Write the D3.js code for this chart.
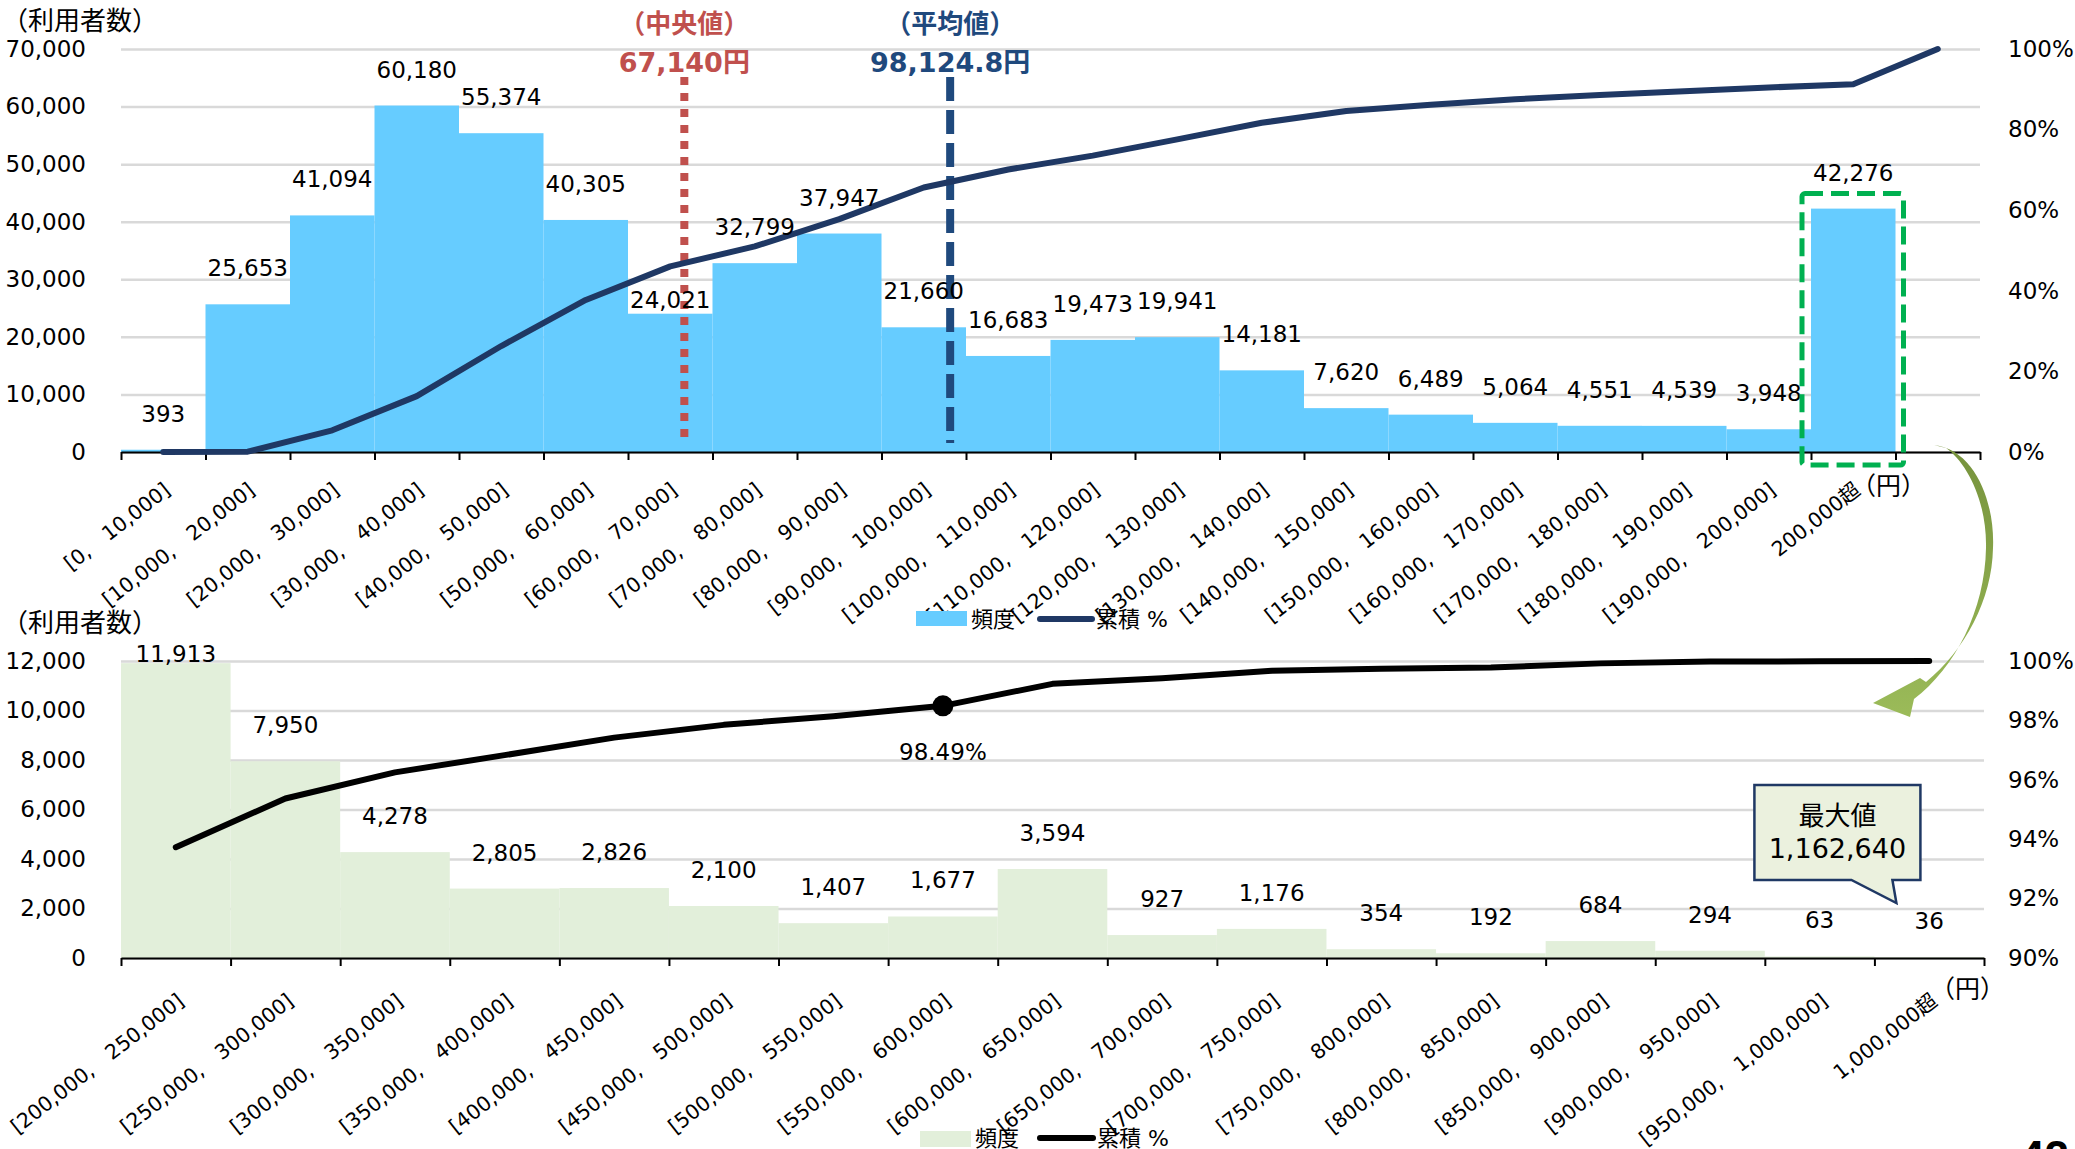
<!DOCTYPE html>
<html>
<head>
<meta charset="utf-8">
<title>利用者数の分布</title>
<script src="https://cdn.jsdelivr.net/npm/d3@7"></script>
<style>
body { margin: 0; background: #fff; }
svg { display: block; font-family: "DejaVu Sans", "Noto Sans CJK JP", sans-serif; }
.grid line { stroke: #d9d9d9; stroke-width: 2.5; }
.grid path { display: none; }
.ticks path, .ticks line { display: none; }
.ticks text { font-size: 23px; fill: #000; font-family: "DejaVu Sans", "Noto Sans CJK JP", sans-serif; }
.edge path, .edge line { stroke: #000; stroke-width: 2; }
.xlab { font-size: 20.5px; fill: #000; }
.val { font-size: 23px; fill: #000; text-anchor: middle; }
.legend { font-size: 22px; fill: #000; }
</style>
</head>
<body>
<script>

// ---------- data ----------
// upper chart: 10,000 yen bins up to 200,000, then "over 200,000"
var topCats = ["[0,　10,000]", "[10,000,　20,000]", "[20,000,　30,000]", "[30,000,　40,000]",
    "[40,000,　50,000]", "[50,000,　60,000]", "[60,000,　70,000]", "[70,000,　80,000]",
    "[80,000,　90,000]", "[90,000,　100,000]", "[100,000,　110,000]", "[110,000,　120,000]",
    "[120,000,　130,000]", "[130,000,　140,000]", "[140,000,　150,000]", "[150,000,　160,000]",
    "[160,000,　170,000]", "[170,000,　180,000]", "[180,000,　190,000]", "[190,000,　200,000]",
    "200,000超"];
var topFreq = [393, 25653, 41094, 60180, 55374, 40305, 24021, 32799, 37947, 21660,
    16683, 19473, 19941, 14181, 7620, 6489, 5064, 4551, 4539, 3948, 42276];
// cumulative % as drawn (one point per slot, last slot past the bars)
var topCum = [0, 0.08, 5.38, 13.87, 26.30, 37.73, 46.06, 51.02, 57.79, 65.63, 70.10,
    73.55, 77.57, 81.69, 84.62, 86.19, 87.53, 88.58, 89.52, 90.45, 91.27, 100];
var topYTicks = [0, 10000, 20000, 30000, 40000, 50000, 60000, 70000];
var topPctTicks = [0, 20, 40, 60, 80, 100];
var median = 67140;
var mean = 98124.8;

// lower chart: breakdown of "over 200,000" in 50,000 yen bins
var botCats = ["[200,000,　250,000]", "[250,000,　300,000]", "[300,000,　350,000]",
    "[350,000,　400,000]", "[400,000,　450,000]", "[450,000,　500,000]", "[500,000,　550,000]",
    "[550,000,　600,000]", "[600,000,　650,000]", "[650,000,　700,000]", "[700,000,　750,000]",
    "[750,000,　800,000]", "[800,000,　850,000]", "[850,000,　900,000]", "[900,000,　950,000]",
    "[950,000,　1,000,000]", "1,000,000超"];
var botFreq = [11913, 7950, 4278, 2805, 2826, 2100, 1407, 1677, 3594, 927, 1176,
    354, 192, 684, 294, 63, 36];
var botCum = [93.73, 95.37, 96.25, 96.83, 97.42, 97.85, 98.14, 98.49, 99.23, 99.42,
    99.67, 99.74, 99.78, 99.92, 99.98, 99.99, 100];
var botYTicks = [0, 2000, 4000, 6000, 8000, 10000, 12000];
var botPctTicks = [90, 92, 94, 96, 98, 100];
var botMarkIdx = 7;          // highlighted point (98.49%)
var maxValue = "1,162,640";

// ---------- canvas ----------
var W = 2075, H = 1149;
var svg = d3.select("body").append("svg")
    .attr("width", W)
    .attr("height", H);

var fmt = d3.format(",");

// ===================== upper chart =====================
var T = {left: 121, right: 1980, top: 49, bottom: 452};

var xTop = d3.scaleBand()
    .domain(d3.range(topCum.length))
    .range([T.left, T.right])
    .padding(0);
var yTop = d3.scaleLinear().domain([0, 70000]).range([T.bottom, T.top]);
var pTop = d3.scaleLinear().domain([0, 100]).range([T.bottom, T.top]);
// yen position along the axis (each slot is 10,000 yen wide)
var yenTop = d3.scaleLinear().domain([0, topCum.length * 10000]).range([T.left, T.right]);

// gridlines
svg.append("g")
    .attr("class", "grid")
    .attr("transform", "translate(" + T.left + ",0)")
    .call(d3.axisLeft(yTop).tickValues(topYTicks).tickSize(-(T.right - T.left)).tickFormat(""));

// left / right tick labels
svg.append("g")
    .attr("class", "ticks")
    .attr("transform", "translate(" + T.left + ",0)")
    .call(d3.axisLeft(yTop).tickValues(topYTicks).tickSize(0).tickPadding(35).tickFormat(fmt));
svg.append("g")
    .attr("class", "ticks")
    .attr("transform", "translate(" + T.right + ",0)")
    .call(d3.axisRight(pTop).tickValues(topPctTicks).tickSize(0).tickPadding(28)
        .tickFormat(function(d) { return d + "%"; }));

// bars
svg.append("g").selectAll("rect")
    .data(topFreq)
    .join("rect")
    .attr("x", function(d, i) { return xTop(i); })
    .attr("y", function(d) { return yTop(d); })
    .attr("width", xTop.bandwidth())
    .attr("height", function(d) { return T.bottom - yTop(d); })
    .attr("fill", "#66ccff");

// x axis with ticks on the bin edges
svg.append("g")
    .attr("class", "edge")
    .attr("transform", "translate(0," + T.bottom + ")")
    .call(d3.axisBottom(yenTop).tickValues(d3.range(0, topCum.length * 10000 + 1, 10000))
        .tickSize(8).tickSizeOuter(0).tickFormat(""));

// median / mean markers
var medX = yenTop(median) - 4;
svg.append("line")
    .attr("x1", medX).attr("x2", medX)
    .attr("y1", 77).attr("y2", 437)
    .attr("stroke", "#c0504d").attr("stroke-width", 8)
    .attr("stroke-dasharray", "8,8");
svg.append("line")
    .attr("x1", yenTop(mean)).attr("x2", yenTop(mean))
    .attr("y1", 77).attr("y2", 443)
    .attr("stroke", "#1f497d").attr("stroke-width", 8)
    .attr("stroke-dasharray", "24,9");

svg.append("text")
    .attr("x", medX).attr("y", 33)
    .attr("text-anchor", "middle").attr("font-size", 26).attr("font-weight", "bold")
    .attr("fill", "#c0504d")
    .text("（中央値）");
svg.append("text")
    .attr("x", medX).attr("y", 72)
    .attr("text-anchor", "middle").attr("font-size", 27).attr("font-weight", "bold")
    .attr("fill", "#c0504d")
    .text(fmt(median) + "円");
svg.append("text")
    .attr("x", yenTop(mean)).attr("y", 33)
    .attr("text-anchor", "middle").attr("font-size", 26).attr("font-weight", "bold")
    .attr("fill", "#1f497d")
    .text("（平均値）");
svg.append("text")
    .attr("x", yenTop(mean)).attr("y", 72)
    .attr("text-anchor", "middle").attr("font-size", 27).attr("font-weight", "bold")
    .attr("fill", "#1f497d")
    .text("98,124.8円");

// cumulative line
var lineTop = d3.line()
    .x(function(d, i) { return xTop(i) + xTop.bandwidth() / 2; })
    .y(function(d) { return pTop(d); });
svg.append("path")
    .datum(topCum)
    .attr("d", lineTop)
    .attr("fill", "none")
    .attr("stroke", "#1f3864")
    .attr("stroke-width", 6)
    .attr("stroke-linejoin", "round")
    .attr("stroke-linecap", "round");

// value labels (24,021 sits lower in the original, next to the line)
svg.append("g").selectAll("text")
    .data(topFreq)
    .join("text")
    .attr("class", "val")
    .attr("x", function(d, i) { return xTop(i) + xTop.bandwidth() / 2; })
    .attr("y", function(d, i) { return yTop(d) - (i == 6 ? 6 : 28); })
    .text(fmt);

// rotated category labels
svg.append("g").selectAll("text")
    .data(topCats)
    .join("text")
    .attr("class", "xlab")
    .attr("text-anchor", "end")
    .attr("dy", "0.35em")
    .attr("transform", function(d, i) {
        return "translate(" + (xTop(i) + xTop.bandwidth() / 2 + 4) + "," + (T.bottom + 35) + ") rotate(-38)";
    })
    .text(function(d) { return d; });

svg.append("text")
    .attr("x", 1851).attr("y", 495)
    .attr("font-size", 25)
    .text("（円）");

svg.append("text")
    .attr("x", 2).attr("y", 30)
    .attr("font-size", 26)
    .text("（利用者数）");

// green dashed frame round the "over 200,000" bar
var last = topFreq.length - 1;
svg.append("rect")
    .attr("x", xTop(last) - 9)
    .attr("y", yTop(topFreq[last]) - 15)
    .attr("width", xTop.bandwidth() + 17)
    .attr("height", T.bottom - yTop(topFreq[last]) + 28)
    .attr("rx", 3)
    .attr("fill", "none")
    .attr("stroke", "#00b050")
    .attr("stroke-width", 5)
    .attr("stroke-dasharray", "18,8");

// legend
svg.append("rect").attr("x", 916).attr("y", 611).attr("width", 51).attr("height", 15).attr("fill", "#66ccff");
svg.append("text").attr("class", "legend").attr("x", 971).attr("y", 627).text("頻度");
svg.append("line").attr("x1", 1040).attr("x2", 1092).attr("y1", 619).attr("y2", 619)
    .attr("stroke", "#1f3864").attr("stroke-width", 6).attr("stroke-linecap", "round");
svg.append("text").attr("class", "legend").attr("x", 1096).attr("y", 627).text("累積 %");

// ===================== lower chart =====================
var B = {left: 121, right: 1984, top: 661, bottom: 958};

var xBot = d3.scaleBand()
    .domain(d3.range(botCats.length))
    .range([B.left, B.right])
    .padding(0);
var yBot = d3.scaleLinear().domain([0, 12000]).range([B.bottom, B.top]);
var pBot = d3.scaleLinear().domain([90, 100]).range([B.bottom, B.top]);
var edgeBot = d3.scaleLinear().domain([0, botCats.length]).range([B.left, B.right]);

svg.append("g")
    .attr("class", "grid")
    .attr("transform", "translate(" + B.left + ",0)")
    .call(d3.axisLeft(yBot).tickValues(botYTicks).tickSize(-(B.right - B.left)).tickFormat(""));

svg.append("g")
    .attr("class", "ticks")
    .attr("transform", "translate(" + B.left + ",0)")
    .call(d3.axisLeft(yBot).tickValues(botYTicks).tickSize(0).tickPadding(35).tickFormat(fmt));
svg.append("g")
    .attr("class", "ticks")
    .attr("transform", "translate(" + B.right + ",0)")
    .call(d3.axisRight(pBot).tickValues(botPctTicks).tickSize(0).tickPadding(24)
        .tickFormat(function(d) { return d + "%"; }));

svg.append("g").selectAll("rect")
    .data(botFreq)
    .join("rect")
    .attr("x", function(d, i) { return xBot(i); })
    .attr("y", function(d) { return yBot(d); })
    .attr("width", xBot.bandwidth())
    .attr("height", function(d) { return B.bottom - yBot(d); })
    .attr("fill", "#e2efda");

svg.append("g")
    .attr("class", "edge")
    .attr("transform", "translate(0," + B.bottom + ")")
    .call(d3.axisBottom(edgeBot).tickValues(d3.range(0, botCats.length + 1))
        .tickSize(8).tickSizeOuter(0).tickFormat(""));

var lineBot = d3.line()
    .x(function(d, i) { return xBot(i) + xBot.bandwidth() / 2; })
    .y(function(d) { return pBot(d); });
svg.append("path")
    .datum(botCum)
    .attr("d", lineBot)
    .attr("fill", "none")
    .attr("stroke", "#000")
    .attr("stroke-width", 6)
    .attr("stroke-linejoin", "round")
    .attr("stroke-linecap", "round");

// highlighted point
var mx = xBot(botMarkIdx) + xBot.bandwidth() / 2;
var my = pBot(botCum[botMarkIdx]);
svg.append("circle").attr("cx", mx).attr("cy", my).attr("r", 10.5).attr("fill", "#000");
svg.append("text").attr("class", "val").attr("x", mx).attr("y", my + 54)
    .text(botCum[botMarkIdx].toFixed(2) + "%");

// value labels, kept inside the plot at the top
svg.append("g").selectAll("text")
    .data(botFreq)
    .join("text")
    .attr("class", "val")
    .attr("x", function(d, i) { return xBot(i) + xBot.bandwidth() / 2; })
    .attr("y", function(d) { return Math.max(yBot(d) - 28, B.top + 1); })
    .text(fmt);

svg.append("g").selectAll("text")
    .data(botCats)
    .join("text")
    .attr("class", "xlab")
    .attr("text-anchor", "end")
    .attr("dy", "0.35em")
    .attr("transform", function(d, i) {
        return "translate(" + (xBot(i) + xBot.bandwidth() / 2 + 5) + "," + (B.bottom + 40) + ") rotate(-38)";
    })
    .text(function(d) { return d; });

svg.append("text")
    .attr("x", 1930).attr("y", 998)
    .attr("font-size", 25)
    .text("（円）");

svg.append("text")
    .attr("x", 2).attr("y", 632)
    .attr("font-size", 26)
    .text("（利用者数）");

// legend
svg.append("rect").attr("x", 920).attr("y", 1131).attr("width", 51).attr("height", 16).attr("fill", "#e2efda");
svg.append("text").attr("class", "legend").attr("x", 975).attr("y", 1146).text("頻度");
svg.append("line").attr("x1", 1040).attr("x2", 1093).attr("y1", 1138).attr("y2", 1138)
    .attr("stroke", "#000").attr("stroke-width", 6).attr("stroke-linecap", "round");
svg.append("text").attr("class", "legend").attr("x", 1097).attr("y", 1146).text("累積 %");

// callout "max value" pointing at the last bin
var cx0 = xBot(botCats.length - 1);
var boxL = cx0 - 120, boxR = cx0 + 46, boxT = 785, boxB = 880;
svg.append("path")
    .attr("d", "M" + boxL + "," + boxT + " H" + boxR + " V" + boxB + " H" + (cx0 + 18) +
        " L" + (cx0 + 22) + "," + (boxB + 23) + " L" + (cx0 - 23) + "," + boxB + " H" + boxL + " Z")
    .attr("fill", "#ebf1de")
    .attr("stroke", "#1f3864")
    .attr("stroke-width", 2.5);
svg.append("text").attr("x", (boxL + boxR) / 2).attr("y", 825)
    .attr("text-anchor", "middle").attr("font-size", 26).text("最大値");
svg.append("text").attr("x", (boxL + boxR) / 2).attr("y", 858)
    .attr("text-anchor", "middle").attr("font-size", 27).text(maxValue);

// curved arrow linking the two charts
var grad = svg.append("defs").append("linearGradient")
    .attr("id", "arrowGrad")
    .attr("x1", 0).attr("y1", 0).attr("x2", 0).attr("y2", 1);
grad.append("stop").attr("offset", "0%").attr("stop-color", "#76923c");
grad.append("stop").attr("offset", "100%").attr("stop-color", "#9bbb59");

var ax = T.right, ay = T.bottom;
var arrowPath = d3.path();
arrowPath.moveTo(ax - 46, ay - 7);
arrowPath.bezierCurveTo(ax - 4, ay - 2, ax + 15, ay + 52, ax + 13, ay + 96);
arrowPath.bezierCurveTo(ax + 12, ay + 148, ax - 15, ay + 198, ax - 54, ay + 230);
arrowPath.lineTo(ax - 60, ay + 226);
arrowPath.lineTo(ax - 107, ay + 251);
arrowPath.lineTo(ax - 70, ay + 265);
arrowPath.lineTo(ax - 66, ay + 247);
arrowPath.bezierCurveTo(ax - 25, ay + 216, ax + 5, ay + 158, ax + 6, ay + 96);
arrowPath.bezierCurveTo(ax + 7, ay + 48, ax - 14, ay + 10, ax - 34, ay - 4);
arrowPath.closePath();
svg.append("path")
    .attr("d", arrowPath.toString())
    .attr("fill", "url(#arrowGrad)");

// page number, cut by the bottom edge
svg.append("text")
    .attr("x", 2020).attr("y", 1172)
    .attr("font-family", "Liberation Sans, Arial, sans-serif")
    .attr("font-size", 44).attr("font-weight", "bold")
    .text("42");

</script>
</body>
</html>
